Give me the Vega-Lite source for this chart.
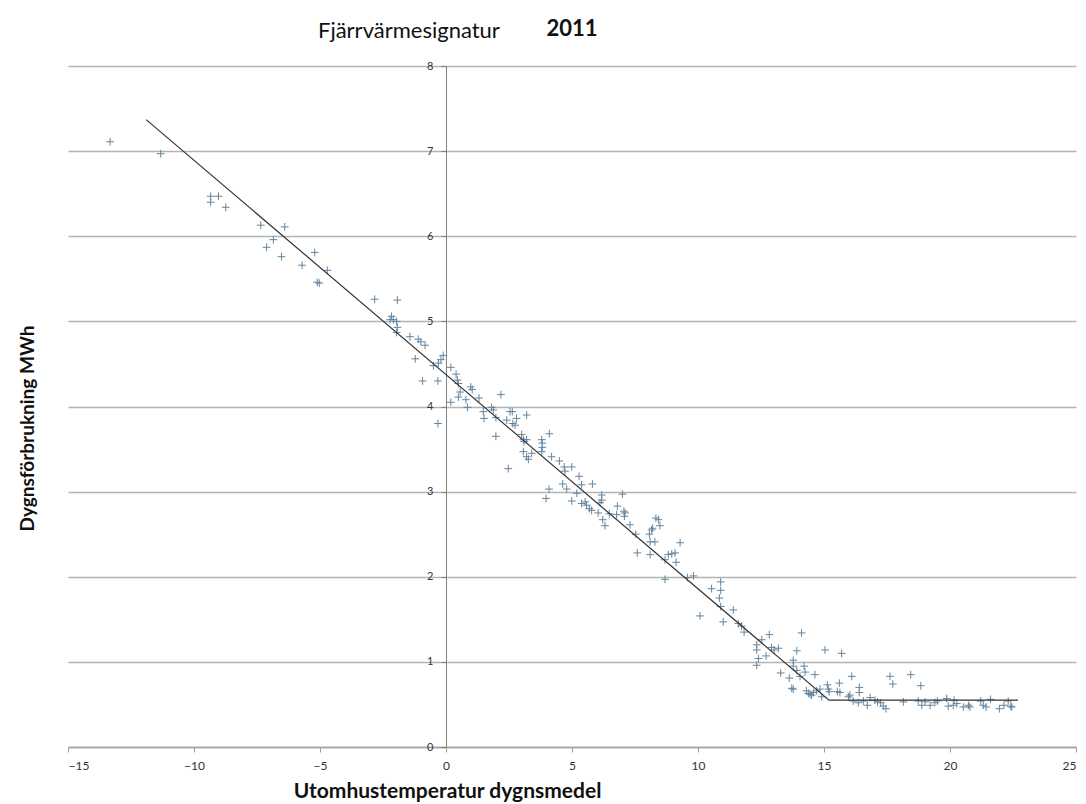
{
  "$schema": "https://vega.github.io/schema/vega-lite/v6.json",
  "width": 1008,
  "height": 681,
  "autosize": "none",
  "padding": {"left": 68, "top": 66, "right": 10, "bottom": 57},
  "background": "white",
  "config": {"view": {"stroke": null}, "font": "Lato"},
  "title": {"text": "Fjärrvärmesignatur", "anchor": "start", "frame": "group", "dx": 250, "fontSize": 22, "fontWeight": "normal", "font": "Lato", "color": "#111", "offset": -25},
  "datasets": {
    "pts": [
      {"t": -13.33, "e": 7.11}, {"t": -11.32, "e": 6.97}, {"t": -9.34, "e": 6.47}, {"t": -9.34, "e": 6.40},
      {"t": -9.03, "e": 6.47}, {"t": -8.74, "e": 6.34}, {"t": -7.35, "e": 6.13}, {"t": -6.40, "e": 6.11},
      {"t": -6.85, "e": 5.96}, {"t": -7.12, "e": 5.87}, {"t": -6.53, "e": 5.76}, {"t": -5.71, "e": 5.66},
      {"t": -5.21, "e": 5.81}, {"t": -4.71, "e": 5.60}, {"t": -5.11, "e": 5.46}, {"t": -5.03, "e": 5.45},
      {"t": -2.83, "e": 5.26}, {"t": -1.93, "e": 5.25}, {"t": -2.16, "e": 5.06}, {"t": -2.09, "e": 5.02},
      {"t": -1.96, "e": 5.00}, {"t": -1.93, "e": 4.93}, {"t": -2.22, "e": 5.02}, {"t": -1.96, "e": 4.87},
      {"t": -1.43, "e": 4.82}, {"t": -1.10, "e": 4.79}, {"t": -1.00, "e": 4.76}, {"t": -0.83, "e": 4.72},
      {"t": -1.22, "e": 4.56}, {"t": -0.50, "e": 4.48}, {"t": -0.30, "e": 4.51}, {"t": -0.20, "e": 4.55},
      {"t": -0.11, "e": 4.60}, {"t": 0.19, "e": 4.46}, {"t": 0.40, "e": 4.38}, {"t": 0.45, "e": 4.31},
      {"t": 0.49, "e": 4.27}, {"t": 0.56, "e": 4.17}, {"t": 0.49, "e": 4.11}, {"t": 0.79, "e": 4.08},
      {"t": 0.85, "e": 3.99}, {"t": 0.19, "e": 4.05}, {"t": -0.93, "e": 4.30}, {"t": -0.32, "e": 4.30},
      {"t": -0.32, "e": 3.80}, {"t": 0.98, "e": 4.23}, {"t": 1.04, "e": 4.20}, {"t": 1.31, "e": 4.10},
      {"t": 1.48, "e": 3.94}, {"t": 1.51, "e": 3.86}, {"t": 1.81, "e": 3.99}, {"t": 1.88, "e": 3.96},
      {"t": 2.18, "e": 4.14}, {"t": 1.98, "e": 3.87}, {"t": 1.98, "e": 3.65}, {"t": 2.41, "e": 3.84},
      {"t": 2.54, "e": 3.94}, {"t": 2.63, "e": 3.94}, {"t": 2.65, "e": 3.80}, {"t": 2.74, "e": 3.78},
      {"t": 2.80, "e": 3.86}, {"t": 3.20, "e": 3.90}, {"t": 2.47, "e": 3.27}, {"t": 3.00, "e": 3.67},
      {"t": 3.07, "e": 3.61}, {"t": 3.10, "e": 3.59}, {"t": 3.20, "e": 3.61}, {"t": 3.07, "e": 3.47},
      {"t": 3.20, "e": 3.41}, {"t": 3.27, "e": 3.38}, {"t": 3.40, "e": 3.45}, {"t": 3.80, "e": 3.61},
      {"t": 3.82, "e": 3.57}, {"t": 3.82, "e": 3.52}, {"t": 4.10, "e": 3.68}, {"t": 3.80, "e": 3.47},
      {"t": 4.19, "e": 3.41}, {"t": 4.50, "e": 3.36}, {"t": 4.69, "e": 3.29}, {"t": 4.72, "e": 3.24},
      {"t": 4.99, "e": 3.29}, {"t": 4.63, "e": 3.09}, {"t": 4.79, "e": 3.03}, {"t": 5.28, "e": 3.18},
      {"t": 5.38, "e": 3.08}, {"t": 5.81, "e": 3.09}, {"t": 5.19, "e": 2.98}, {"t": 4.99, "e": 2.89},
      {"t": 4.09, "e": 3.03}, {"t": 3.97, "e": 2.92}, {"t": 5.38, "e": 2.86}, {"t": 5.52, "e": 2.88},
      {"t": 5.58, "e": 2.84}, {"t": 5.69, "e": 2.80}, {"t": 5.78, "e": 2.78}, {"t": 6.04, "e": 2.75},
      {"t": 6.18, "e": 2.96}, {"t": 6.18, "e": 2.90}, {"t": 6.11, "e": 2.87}, {"t": 6.48, "e": 2.74},
      {"t": 6.80, "e": 2.83}, {"t": 7.00, "e": 2.97}, {"t": 7.10, "e": 2.75}, {"t": 7.08, "e": 2.71},
      {"t": 6.22, "e": 2.67}, {"t": 6.77, "e": 2.73}, {"t": 7.06, "e": 2.77}, {"t": 6.31, "e": 2.60},
      {"t": 7.30, "e": 2.61}, {"t": 7.53, "e": 2.50}, {"t": 7.59, "e": 2.28}, {"t": 8.10, "e": 2.26},
      {"t": 8.07, "e": 2.50}, {"t": 8.16, "e": 2.55}, {"t": 8.10, "e": 2.41}, {"t": 8.29, "e": 2.41},
      {"t": 8.33, "e": 2.69}, {"t": 8.43, "e": 2.67}, {"t": 8.49, "e": 2.60}, {"t": 8.20, "e": 2.57},
      {"t": 9.29, "e": 2.40}, {"t": 8.69, "e": 2.20}, {"t": 8.82, "e": 2.26}, {"t": 8.96, "e": 2.27},
      {"t": 9.09, "e": 2.28}, {"t": 9.13, "e": 2.17}, {"t": 8.69, "e": 1.97}, {"t": 9.58, "e": 1.99},
      {"t": 9.82, "e": 2.01}, {"t": 10.54, "e": 1.86}, {"t": 10.90, "e": 1.94}, {"t": 10.90, "e": 1.84},
      {"t": 10.85, "e": 1.75}, {"t": 10.90, "e": 1.65}, {"t": 10.08, "e": 1.54}, {"t": 11.00, "e": 1.47},
      {"t": 11.40, "e": 1.61}, {"t": 11.60, "e": 1.45}, {"t": 11.73, "e": 1.42}, {"t": 11.83, "e": 1.35},
      {"t": 12.33, "e": 1.20}, {"t": 12.53, "e": 1.26}, {"t": 12.83, "e": 1.32}, {"t": 14.11, "e": 1.34},
      {"t": 12.92, "e": 1.17}, {"t": 13.19, "e": 1.16}, {"t": 13.92, "e": 1.13}, {"t": 15.04, "e": 1.14},
      {"t": 12.33, "e": 1.14}, {"t": 12.40, "e": 1.04}, {"t": 12.33, "e": 0.96}, {"t": 12.70, "e": 1.07},
      {"t": 13.02, "e": 1.14}, {"t": 13.28, "e": 0.87}, {"t": 13.62, "e": 0.81}, {"t": 13.72, "e": 0.69},
      {"t": 13.78, "e": 0.68}, {"t": 13.78, "e": 1.02}, {"t": 13.78, "e": 0.95}, {"t": 14.05, "e": 0.83},
      {"t": 13.92, "e": 0.90}, {"t": 14.21, "e": 0.95}, {"t": 14.25, "e": 0.88}, {"t": 14.64, "e": 0.85},
      {"t": 14.38, "e": 0.63}, {"t": 14.51, "e": 0.61}, {"t": 14.58, "e": 0.64}, {"t": 14.71, "e": 0.66},
      {"t": 14.84, "e": 0.68}, {"t": 14.91, "e": 0.59}, {"t": 14.45, "e": 0.62}, {"t": 14.30, "e": 0.66},
      {"t": 15.13, "e": 0.73}, {"t": 15.17, "e": 0.68}, {"t": 15.21, "e": 0.65}, {"t": 15.70, "e": 1.10},
      {"t": 15.61, "e": 0.75}, {"t": 15.63, "e": 0.64}, {"t": 15.53, "e": 0.65}, {"t": 16.10, "e": 0.83},
      {"t": 15.97, "e": 0.59}, {"t": 16.03, "e": 0.61}, {"t": 16.40, "e": 0.70}, {"t": 16.40, "e": 0.64},
      {"t": 16.16, "e": 0.54}, {"t": 16.36, "e": 0.52}, {"t": 16.56, "e": 0.54}, {"t": 16.72, "e": 0.49},
      {"t": 16.83, "e": 0.58}, {"t": 17.02, "e": 0.55}, {"t": 17.12, "e": 0.53}, {"t": 17.25, "e": 0.52},
      {"t": 17.35, "e": 0.48}, {"t": 17.46, "e": 0.45}, {"t": 17.62, "e": 0.83}, {"t": 17.73, "e": 0.74},
      {"t": 18.15, "e": 0.53}, {"t": 18.44, "e": 0.85}, {"t": 18.84, "e": 0.72}, {"t": 18.74, "e": 0.54},
      {"t": 18.88, "e": 0.49}, {"t": 19.01, "e": 0.53}, {"t": 19.21, "e": 0.49}, {"t": 19.40, "e": 0.52},
      {"t": 19.50, "e": 0.54}, {"t": 19.87, "e": 0.57}, {"t": 19.93, "e": 0.48}, {"t": 20.13, "e": 0.49},
      {"t": 20.16, "e": 0.55}, {"t": 20.27, "e": 0.51}, {"t": 20.53, "e": 0.47}, {"t": 20.73, "e": 0.49},
      {"t": 20.79, "e": 0.47}, {"t": 21.22, "e": 0.54}, {"t": 21.32, "e": 0.49}, {"t": 21.43, "e": 0.47},
      {"t": 21.61, "e": 0.56}, {"t": 21.96, "e": 0.45}, {"t": 22.14, "e": 0.49}, {"t": 22.31, "e": 0.54},
      {"t": 22.41, "e": 0.48}, {"t": 22.45, "e": 0.47}
    ],
    "fit": [
      {"t": -11.9, "e": 7.37}, {"t": 15.2, "e": 0.55}, {"t": 22.7, "e": 0.55}
    ]
  },
  "layer": [
    {
      "data": {"name": "pts"},
      "mark": {"type": "point", "shape": "M-1,0L1,0M0,-1L0,1", "filled": false, "size": 60, "strokeWidth": 1, "color": "#5b7f9b", "opacity": 0.95},
      "encoding": {
        "x": {"field": "t", "type": "quantitative", "scale": {"domain": [-15, 25], "nice": false},
          "axis": {"title": "Utomhustemperatur dygnsmedel", "titleFontWeight": "bold", "titleFontSize": 21, "titleColor": "#111", "titleX": 379, "titleY": 33, "titleFont": "Lato", "format": "d",
            "values": [-15, -10, -5, 0, 5, 10, 15, 20, 25], "grid": false, "domainColor": "#a0a0a0", "domainWidth": 1.5, "tickColor": "#a0a0a0", "tickSize": 5, "labelFontSize": 12, "labelColor": "#333", "labelPadding": 8, "labelFont": "Lato"}},
        "y": {"field": "e", "type": "quantitative", "scale": {"domain": [0, 8], "nice": false},
          "axis": {"offset": -378, "title": "Dygnsförbrukning MWh", "titleFontWeight": "bold", "titleFontSize": 19, "titleColor": "#111", "titleX": -409, "titleY": 362, "titleFont": "Lato", "format": "d",
            "values": [0, 1, 2, 3, 4, 5, 6, 7, 8], "grid": true, "gridColor": "#b4b4b4", "gridWidth": 1.5, "domainColor": "#808080", "domainWidth": 1, "tickColor": "#808080", "tickSize": 5, "labelFontSize": 11, "labelColor": "#333", "labelPadding": 8, "labelFont": "Lato"}}
      }
    },
    {
      "data": {"name": "fit"},
      "mark": {"type": "line", "color": "#333333", "strokeWidth": 1.2},
      "encoding": {
        "x": {"field": "t", "type": "quantitative"},
        "y": {"field": "e", "type": "quantitative"}
      }
    },
    {
      "data": {"values": [{}]},
      "mark": {"type": "text", "text": "2011", "fontWeight": "bold", "fontSize": 22, "font": "Lato", "color": "#111"},
      "encoding": {
        "x": {"datum": 5.0, "type": "quantitative"},
        "y": {"datum": 8.43, "type": "quantitative"}
      }
    }
  ]
}
